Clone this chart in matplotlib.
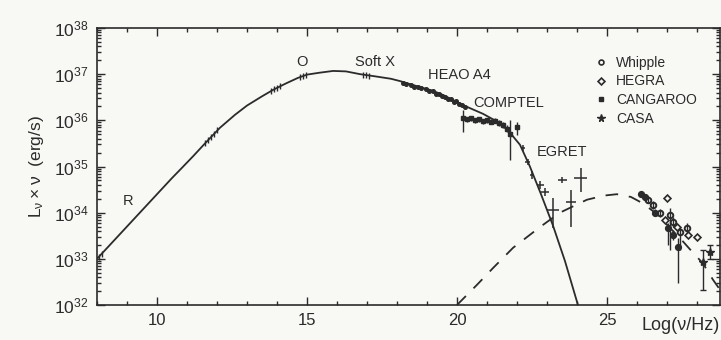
import numpy as np
import matplotlib
matplotlib.use('Agg')
import matplotlib.pyplot as plt
from matplotlib.lines import Line2D
from matplotlib.ticker import MultipleLocator, FixedLocator, NullFormatter, FixedFormatter

plt.rcParams['font.family'] = ['Liberation Sans', 'DejaVu Sans']
plt.rcParams['mathtext.default'] = 'regular'

# ---- data (log10 nu [Hz], log10 L*nu [erg/s]) ----
sync_x = [8.0, 8.5, 9.0, 9.5, 10.0, 10.5, 10.77, 11.2, 11.6, 12.1, 12.6, 13.0, 13.5,
          13.87, 14.3, 14.7, 15.0, 15.4, 15.87, 16.3, 16.77, 17.3, 17.8, 18.1, 18.77,
          19.2, 19.53, 19.9, 20.2, 20.87, 21.43, 21.77, 22.1, 22.43, 22.8, 23.2, 23.6,
          24.0, 24.05]
sync_y = [33.0, 33.35, 33.7, 34.05, 34.4, 34.75, 34.93, 35.22, 35.5, 35.84, 36.12, 36.32,
          36.52, 36.66, 36.8, 36.92, 36.99, 37.03, 37.07, 37.06, 37.0, 36.95, 36.9, 36.85,
          36.72, 36.64, 36.55, 36.43, 36.33, 36.14, 35.94, 35.73, 35.47, 35.0, 34.4,
          33.72, 32.95, 32.07, 31.95]

ic_x = [20.0, 20.67, 21.2, 21.87, 22.77, 23.43, 24.33, 24.9, 25.33, 25.8, 26.2, 26.7,
        27.1, 27.5, 27.87, 28.2, 28.53, 28.8]
ic_y = [32.0, 32.44, 32.8, 33.24, 33.69, 34.0, 34.28, 34.37, 34.4, 34.34, 34.2, 33.95,
        33.67, 33.4, 33.13, 32.9, 32.55, 32.3]

lowf_x = [8.05, 8.15, 11.6, 11.7, 11.8, 11.9, 12.0, 13.8, 13.9, 14.0, 14.1, 14.75, 14.85,
          14.95, 16.85, 16.95, 17.05]
lowf_y = [33.03, 33.1, 35.5, 35.57, 35.64, 35.71, 35.78, 36.64, 36.67, 36.71, 36.74,
          36.93, 36.96, 36.98, 36.99, 36.98, 36.97]

xray_x = [18.2, 18.3, 18.45, 18.55, 18.7, 18.8, 18.95, 19.05, 19.2, 19.3, 19.4, 19.5,
          19.6, 19.7, 19.8, 19.9, 19.97, 20.05, 20.15, 20.25]
xray_y = [36.81, 36.78, 36.77, 36.73, 36.72, 36.69, 36.67, 36.63, 36.63, 36.58, 36.57,
          36.52, 36.51, 36.46, 36.47, 36.40, 36.42, 36.35, 36.33, 36.28]

comptel_x = [20.2, 20.33, 20.47, 20.6, 20.73, 20.87, 21.0, 21.13, 21.27, 21.4, 21.53,
             21.65, 21.77, 22.0]
comptel_y = [36.05, 36.02, 36.04, 36.0, 36.02, 35.98, 36.0, 35.97, 35.99, 35.94, 35.9,
             35.82, 35.7, 35.85]
comptel_lo = [35.75, 35.97, 35.99, 35.95, 35.97, 35.93, 35.95, 35.92, 35.94, 35.88,
              35.84, 35.75, 35.14, 35.68]
comptel_hi = [36.22, 36.07, 36.09, 36.05, 36.07, 36.03, 36.05, 36.02, 36.04, 36.0,
              35.96, 35.89, 36.0, 35.97]

egret_x = [22.2, 22.35, 22.5, 22.77, 22.93, 23.2, 23.5, 23.8, 24.13]
egret_y = [35.4, 35.1, 34.82, 34.6, 34.45, 34.06, 34.71, 34.23, 34.75]
egret_lo = [35.33, 35.03, 34.74, 34.52, 34.37, 33.67, 34.64, 33.69, 34.45]
egret_hi = [35.47, 35.17, 34.9, 34.68, 34.53, 34.32, 34.78, 34.49, 34.97]
egret_xe = [0.06, 0.07, 0.08, 0.12, 0.12, 0.2, 0.15, 0.17, 0.22]

whipple_x = [26.37, 26.53, 26.77, 27.1, 27.2, 27.43, 27.67]
whipple_y = [34.28, 34.17, 33.99, 33.95, 33.8, 33.58, 33.67]
whipple_lo = [34.2, 34.09, 33.9, 33.2, 33.7, 33.2, 33.55]
whipple_hi = [34.36, 34.25, 34.08, 34.1, 33.9, 33.7, 33.78]

hegra_x = [27.0, 26.93, 27.33, 27.7, 28.0]
hegra_y = [34.32, 33.84, 33.7, 33.52, 33.48]

cangaroo_x = [26.13, 26.27, 26.6, 27.03, 27.2, 27.37]
cangaroo_y = [34.4, 34.33, 34.0, 33.67, 33.52, 33.26]
cangaroo_lo = [34.33, 34.26, 33.92, 33.3, 33.4, 32.48]
cangaroo_hi = [34.47, 34.4, 34.08, 33.78, 33.62, 33.45]

casa_x = [28.2, 28.43]
casa_y = [32.94, 33.15]
casa_lo = [32.33, 33.0]
casa_hi = [33.2, 33.3]

band_labels = ['O', 'Soft X', 'HEAO A4', 'COMPTEL', 'EGRET', 'R']
band_x = [14.65, 16.6, 19.03, 20.53, 22.67, 8.85]
band_y = [37.26, 37.26, 36.98, 36.38, 35.32, 34.26]

ytick_exp = [32, 33, 34, 35, 36, 37, 38]
xticks = [10, 15, 20, 25]

legend_labels = ['Whipple', 'HEGRA', 'CANGAROO', 'CASA']

# ---- drawing ----
ink = '#2b2b2b'
bg = '#f8f9f5'

def p(v):
    return 10.0 ** np.asarray(v, dtype=float)

def yerr(y, lo, hi):
    y = p(y)
    return [y - p(lo), p(hi) - y]

fig = plt.figure(figsize=(7.21, 3.40), dpi=100, facecolor=bg)
ax = fig.add_axes([97 / 721, 1 - 305 / 340, 623 / 721, 277 / 340])
ax.set_facecolor(bg)
ax.set_yscale('log')
ax.set_xlim(8, 8 + 623 / 30)
ax.set_ylim(1e32, 1e38)

ax.plot(sync_x, p(sync_y), color=ink, lw=1.3, zorder=3)
ax.plot(ic_x, p(ic_y), color=ink, lw=1.3, dashes=(7, 6), zorder=3)

ax.plot(lowf_x, p(lowf_y), ls='none', marker='|', ms=4, mew=1.0, color=ink, zorder=4)
ax.plot(xray_x, p(xray_y), ls='none', marker='o', ms=2.6, color=ink, zorder=4)

ax.errorbar(comptel_x, p(comptel_y), yerr=yerr(comptel_y, comptel_lo, comptel_hi),
            xerr=0.05, fmt='s', ms=2.2, color=ink, elinewidth=1.0, capsize=0, zorder=4)
ax.errorbar(egret_x, p(egret_y), yerr=yerr(egret_y, egret_lo, egret_hi), xerr=egret_xe,
            fmt='none', ecolor=ink, elinewidth=1.1, capsize=0, zorder=4)

ax.errorbar(whipple_x, p(whipple_y), yerr=yerr(whipple_y, whipple_lo, whipple_hi),
            fmt='o', ms=4, mfc='none', mec=ink, mew=1.4, ecolor=ink, elinewidth=1.0,
            capsize=0, zorder=4)
ax.plot(hegra_x, p(hegra_y), ls='none', marker='D', ms=3.5, mfc='none', mec=ink,
        mew=1.2, zorder=4)
ax.errorbar(cangaroo_x, p(cangaroo_y), yerr=yerr(cangaroo_y, cangaroo_lo, cangaroo_hi),
            fmt='o', ms=4.2, color=ink, elinewidth=1.0, capsize=0, zorder=4)
ax.errorbar(casa_x, p(casa_y), yerr=yerr(casa_y, casa_lo, casa_hi), fmt='*', ms=6,
            color=ink, elinewidth=1.0, capsize=2, zorder=4)

for t, x, y in zip(band_labels, band_x, band_y):
    ax.text(x, 10 ** y, t, fontsize=10.5, color=ink, ha='left', va='center')

handles = [
    Line2D([], [], ls='none', marker='o', ms=3.5, mfc='none', mec=ink, mew=1.2),
    Line2D([], [], ls='none', marker='D', ms=3.5, mfc='none', mec=ink, mew=1.2),
    Line2D([], [], ls='none', marker='s', ms=3, color=ink),
    Line2D([], [], ls='none', marker='*', ms=5.5, color=ink),
]
leg = ax.legend(handles, legend_labels, loc='upper left', bbox_to_anchor=(0.8, 0.90),
                frameon=False, fontsize=10, handlelength=0.8, handletextpad=0.7,
                labelspacing=0.34, borderpad=0, borderaxespad=0)
for txt in leg.get_texts():
    txt.set_color(ink)

ax.xaxis.set_major_locator(FixedLocator(xticks))
ax.xaxis.set_minor_locator(MultipleLocator(1))
ax.yaxis.set_major_locator(FixedLocator(p(ytick_exp)))
ax.yaxis.set_major_formatter(FixedFormatter([r'$10^{%d}$' % e for e in ytick_exp]))
minors = [m * 10.0 ** e for e in ytick_exp[:-1] for m in range(2, 10)]
ax.yaxis.set_minor_locator(FixedLocator(minors))
ax.yaxis.set_minor_formatter(NullFormatter())
ax.tick_params(which='both', direction='in', top=True, right=True, colors=ink, width=1.0)
ax.tick_params(axis='y', which='major', labelsize=12.5)
ax.tick_params(axis='x', which='major', labelsize=12)
ax.tick_params(which='major', length=6, pad=6)
ax.tick_params(which='minor', length=3)
for s in ax.spines.values():
    s.set_color(ink)
    s.set_linewidth(1.2)

ax.set_ylabel(r'$L_\nu \times \nu$  (erg/s)', fontsize=12.5, color=ink, labelpad=6)
fig.text(0.998, 0.044, 'Log(ν/Hz)', fontsize=13, color=ink, ha='right', va='center')

fig.savefig('out.png', dpi=100, facecolor=bg)
